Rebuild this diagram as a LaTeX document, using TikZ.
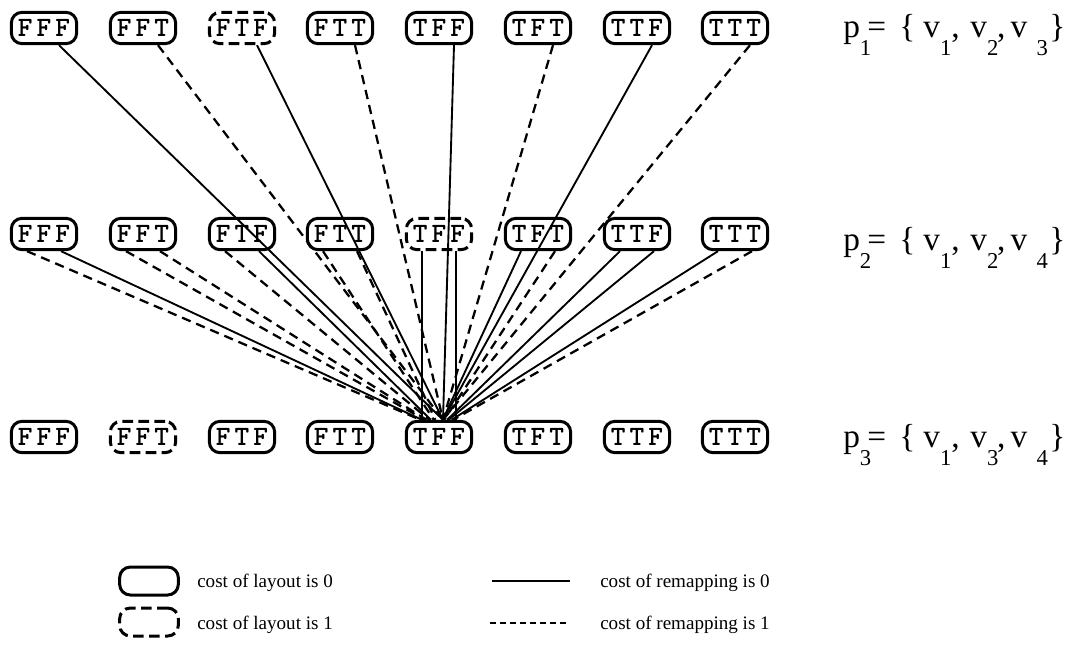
\documentclass[tikz,border=0pt]{standalone}
\usepackage{fontspec}
\setmainfont{Liberation Serif}
\usetikzlibrary{calc}
\newcommand{\spl}[3]{#1\kern3pt#2\kern3pt#3}
\newcommand{\lsb}[1]{\raisebox{-14pt}{\fontsize{17}{17}\selectfont #1}}
\newcommand{\plab}[3]{p\lsb{#1}\kern-3pt=\kern10pt\{\kern6pt v\lsb{1}\kern0pt,\kern8pt v\lsb{#2}\kern-1pt,\kern4pt v\kern7pt\lsb{#3}\kern1pt\}}
\tikzset{
  st/.style={draw, line width=2.25pt, rounded corners=8pt, minimum width=49pt, minimum height=23.5pt, inner sep=0pt, font=\ttfamily\bfseries\fontsize{21}{21}\selectfont},
  stdash/.style={st, dash pattern=on 8pt off 4pt},
  zero/.style={line width=1.4pt},
  one/.style={line width=1.7pt, dash pattern=on 7pt off 4.5pt},
  lab/.style={anchor=base west, inner sep=0pt, font=\fontsize{25}{25}\selectfont},
  leg/.style={anchor=base west, inner sep=0pt, font=\fontsize{14.3}{16}\selectfont},
}
\begin{document}
\begin{tikzpicture}[x=0.75pt,y=-0.75pt]
\useasboundingbox (0,0) rectangle (1071,644);
% rows of nodes
\foreach \n/\x/\s [count=\i] in {FFF/44/st,FFT/143/st,FTF/242/stdash,FTT/340/st,TFF/439/st,TFT/538/st,TTF/637/st,TTT/735/st}{
  \node[\s] (t\i) at (\x,28) {\expandafter\spl\n};
}
\foreach \n/\x/\s [count=\i] in {FFF/44/st,FFT/143/st,FTF/242/st,FTT/340/st,TFF/439/stdash,TFT/538/st,TTF/637/st,TTT/735/st}{
  \node[\s] (m\i) at (\x,234) {\expandafter\spl\n};
}
\foreach \n/\x/\s [count=\i] in {FFF/44/st,FFT/143/stdash,FTF/242/st,FTT/340/st,TFF/439/st,TFT/538/st,TTF/637/st,TTT/735/st}{
  \node[\s] (b\i) at (\x,437) {\expandafter\spl\n};
}
% top row to bottom TFF
\foreach \i/\s in {1/zero,2/one,3/zero,4/one,5/zero,6/one,7/zero,8/one}{
  \draw[\s] ($(t\i.south)+(15,0)$) -- ($(b5.north)+(4,0)$);
}
% middle row to bottom TFF
\foreach \i/\x/\ls/\rs in {1/44/one/zero,2/143/one/one,3/242/one/zero,4/340/one/one,6/538/zero/one,7/637/zero/zero,8/735/zero/one}{
  \pgfmathsetmacro\el{0.045*(\x-17-439)}
  \pgfmathsetmacro\er{0.045*(\x+17-439)}
  \draw[\ls] ($(m\i.south)+(-17,0)$) -- ($(b5.north)+(\el,0)$);
  \draw[\rs] ($(m\i.south)+(17,0)$) -- ($(b5.north)+(\er,0)$);
}
\draw[zero] ($(m5.south)+(-17,0)$) -- ($(b5.north)+(-17,0)$);
\draw[zero] ($(m5.south)+(17,0)$) -- ($(b5.north)+(17,0)$);
% right labels
\node[lab] (p1) at (843,37) {\plab{1}{2}{3}};
\node[lab] (p2) at (843,250) {\plab{2}{2}{4}};
\node[lab] (p3) at (843,447) {\plab{3}{3}{4}};
% legend
\node[st, minimum width=44pt, minimum height=21pt] (l0) at (149,581) {};
\node[stdash, minimum width=44pt, minimum height=21pt] (l1) at (149,622) {};
\node[leg] (lt0) at (197,587) {cost of layout is 0};
\node[leg] (lt1) at (197,629) {cost of layout is 1};
\coordinate (a0) at (492,581); \coordinate (c0) at (570,581);
\coordinate (a1) at (490,623); \coordinate (c1) at (568,623);
\draw[line width=1.2pt] (a0) -- (c0);
\draw[line width=1.5pt, dash pattern=on 4.5pt off 3pt] (a1) -- (c1);
\node[leg] (lr0) at (600,587) {cost of remapping is 0};
\node[leg] (lr1) at (600,629) {cost of remapping is 1};
\end{tikzpicture}
\end{document}
